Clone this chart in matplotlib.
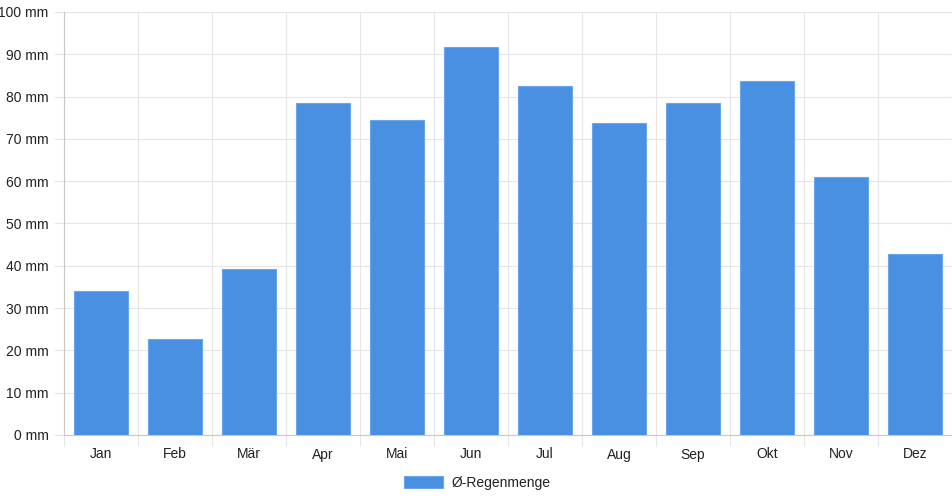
import matplotlib
matplotlib.use("Agg")
import matplotlib.pyplot as plt
import numpy as np

months = ["Jan", "Feb", "Mär", "Apr", "Mai", "Jun", "Jul", "Aug", "Sep", "Okt", "Nov", "Dez"]
rain = [34.0, 22.7, 39.2, 78.4, 74.5, 91.8, 82.5, 73.8, 78.6, 83.7, 61.0, 42.8]
yticks = [0, 10, 20, 30, 40, 50, 60, 70, 80, 90, 100]
series_label = "Ø-Regenmenge"

plt.rcParams['font.family'] = ['Liberation Sans', 'DejaVu Sans']

fig = plt.figure(figsize=(9.52, 5.0), dpi=100)
ax = fig.add_axes([64/952, 65/500, 888/952, 423/500])

x = np.arange(len(months))
ax.bar(x, rain, width=0.72, color="#4a90e2", edgecolor="#6aa6ea", linewidth=0.8,
       label=series_label, zorder=3)

ax.set_xlim(-0.5, len(months) - 0.5)
ax.set_ylim(0, 100)
ax.set_yticks(yticks)
ax.set_yticklabels([f"{v} mm" for v in yticks])
ax.set_xticks(x)
ax.set_xticklabels(months)
ax.set_xticks(np.arange(-0.5, len(months), 1.0), minor=True)

grid_c = "#e6e6e6"
ax.grid(True, axis="y", which="major", color=grid_c, linewidth=0.8, zorder=0)
ax.grid(True, axis="x", which="minor", color=grid_c, linewidth=0.8, zorder=0)
ax.grid(False, axis="x", which="major")

ax.tick_params(axis="x", which="major", length=0, pad=9, labelsize=10, labelcolor="#222222")
ax.tick_params(axis="x", which="minor", length=8, color=grid_c, width=0.8)
ax.tick_params(axis="y", which="major", length=7, color=grid_c, width=0.8, pad=4,
               labelsize=10, labelcolor="#222222")

for s in ["top", "right"]:
    ax.spines[s].set_visible(False)
ax.spines["left"].set_color("#c8c8c8")
ax.spines["bottom"].set_color("#c8c8c8")
ax.spines["left"].set_linewidth(0.8)
ax.spines["bottom"].set_linewidth(0.8)

leg = fig.legend(loc="center", bbox_to_anchor=(477/952, 1 - 483/500), frameon=False,
                 fontsize=10, handlelength=2.8, handleheight=1.0, handletextpad=0.6)
for t in leg.get_texts():
    t.set_color("#222222")

fig.savefig("out.png", dpi=100)
